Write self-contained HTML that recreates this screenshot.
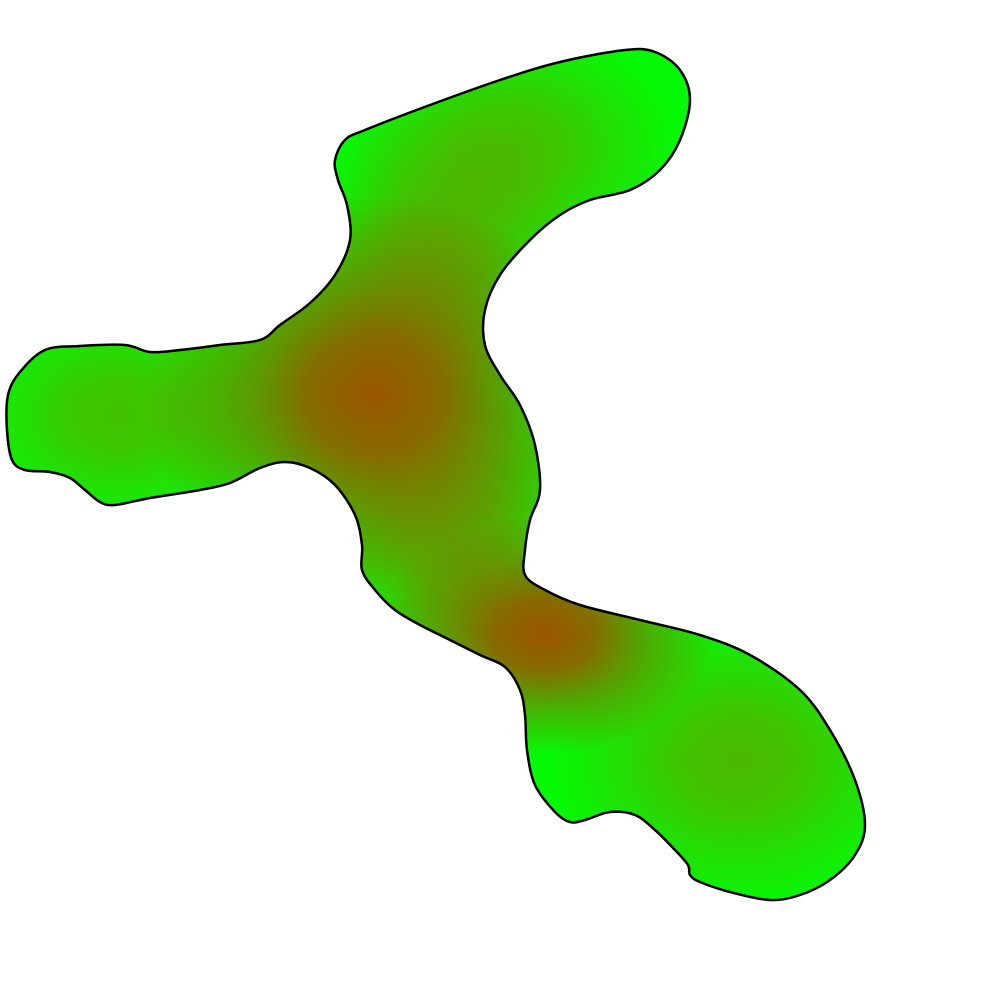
<!DOCTYPE html>
<html><head><meta charset="utf-8"><style>
html,body{margin:0;padding:0;background:#fff;}
svg{display:block}
</style></head><body>
<svg id="chart" width="1000" height="1000" viewBox="0 0 1000 1000" xmlns="http://www.w3.org/2000/svg"></svg>
<script>
const outlineX=[335,345,365,430,500,560,625,655,680,690,680,660,630,590,560,530,500,485,485,500,520,535,540,530,525,525,545,580,640,700,750,800,830,855,865,855,830,800,770,730,700,690,688,675,655,635,610,585,570,555,535,527,525,520,505,480,450,420,395,375,362,362,355,335,310,285,260,230,200,150,115,100,85,70,50,25,12,7,8,20,45,80,125,150,180,220,260,280,310,335,350,347,338];
const outlineY=[160,140,130,105,80,62,50,52,70,100,140,170,190,200,215,240,275,310,345,375,405,445,490,520,550,575,590,605,620,635,655,690,730,780,825,855,880,895,900,892,882,875,865,850,830,815,812,820,822,812,785,750,715,690,667,655,640,625,610,590,570,545,515,485,468,462,468,483,490,498,505,502,490,478,472,470,460,430,395,372,350,346,345,352,350,345,340,325,303,275,240,205,180];
const hotX=[510,120,740,440,450,375,545];
const hotY=[150,415,760,250,540,395,635];
const hotRx=[170,160,190,140,150,230,170];
const hotRy=[130,120,150,140,150,200,120];
const hotColor=['#4fb500','#4fb500','#4fb500','#6a9a00','#6a9a00','#9a5500','#9a5500'];
const hotAlpha=[0.9,0.85,0.95,0.7,0.75,1,1];
const NS='http://www.w3.org/2000/svg';
const svg=document.getElementById('chart');
function pathD(xs,ys){
  const n=xs.length;let d='M'+xs[0]+','+ys[0];
  for(let i=0;i<n;i++){
    const p0=[xs[(i-1+n)%n],ys[(i-1+n)%n]],p1=[xs[i],ys[i]],p2=[xs[(i+1)%n],ys[(i+1)%n]],p3=[xs[(i+2)%n],ys[(i+2)%n]];
    const c1=[p1[0]+(p2[0]-p0[0])/6,p1[1]+(p2[1]-p0[1])/6];
    const c2=[p2[0]-(p3[0]-p1[0])/6,p2[1]-(p3[1]-p1[1])/6];
    d+=' C'+c1[0].toFixed(1)+','+c1[1].toFixed(1)+' '+c2[0].toFixed(1)+','+c2[1].toFixed(1)+' '+p2[0]+','+p2[1];
  }
  return d+'Z';
}
const d=pathD(outlineX,outlineY);
const defs=document.createElementNS(NS,'defs');svg.appendChild(defs);
const cp=document.createElementNS(NS,'clipPath');cp.setAttribute('id','clip');
const cpp=document.createElementNS(NS,'path');cpp.setAttribute('d',d);cp.appendChild(cpp);defs.appendChild(cp);
hotX.forEach((x,i)=>{
  const g=document.createElementNS(NS,'radialGradient');g.setAttribute('id','g'+i);
  const a=hotAlpha[i];
  g.innerHTML='<stop offset="0" stop-color="'+hotColor[i]+'" stop-opacity="'+a+'"/><stop offset="0.3" stop-color="'+hotColor[i]+'" stop-opacity="'+(a*0.85)+'"/><stop offset="0.65" stop-color="'+hotColor[i]+'" stop-opacity="'+(a*0.4)+'"/><stop offset="1" stop-color="'+hotColor[i]+'" stop-opacity="0"/>';
  defs.appendChild(g);
});
const base=document.createElementNS(NS,'path');
base.setAttribute('d',d);base.setAttribute('fill','#05fa05');


svg.appendChild(base);
const grp=document.createElementNS(NS,'g');grp.setAttribute('clip-path','url(#clip)');


svg.appendChild(grp);
hotX.forEach((x,i)=>{
  const c=document.createElementNS(NS,'ellipse');
  c.setAttribute('cx',x);c.setAttribute('cy',hotY[i]);c.setAttribute('rx',hotRx[i]);c.setAttribute('ry',hotRy[i]);
  c.setAttribute('fill','url(#g'+i+')');
  
  
  grp.appendChild(c);
});
const ol=document.createElementNS(NS,'path');
ol.setAttribute('d',d);ol.setAttribute('fill','none');ol.setAttribute('stroke','#000');ol.setAttribute('stroke-width','2.5');


svg.appendChild(ol);
</script>
</body></html>
